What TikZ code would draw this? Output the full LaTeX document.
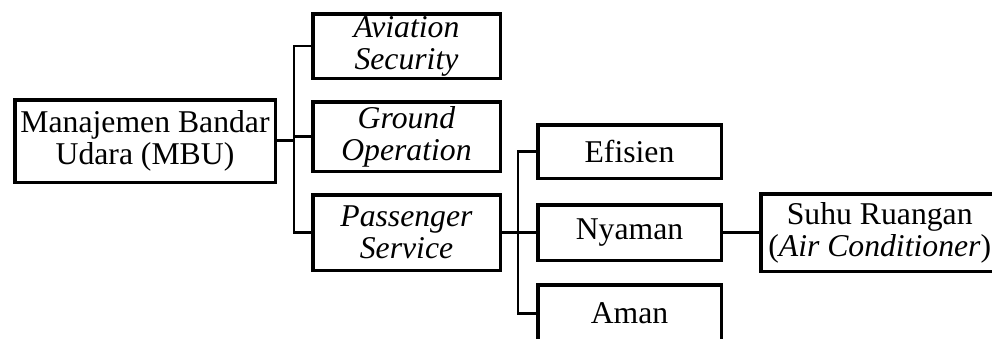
\documentclass[tikz,border=0pt]{standalone}
\usepackage{fontspec}
\setmainfont{Liberation Serif}
\begin{document}
\begin{tikzpicture}[x=1pt,y=-1pt,
  box/.style={draw=black, line width=3.5pt, rectangle, inner sep=0pt, outer sep=0pt,
    align=center, font=\fontsize{31.7}{32}\selectfont},
  tree/.style={draw=black, line width=2.2pt, line join=miter},
  trunk/.style={draw=black, line width=3pt}]
\useasboundingbox (0,0) rectangle (992,338);
\node[box, minimum width=260.5pt, minimum height=82.5pt] (mbu) at (145,141) {Manajemen Bandar\\Udara (MBU)};
\node[box, minimum width=187.5pt, minimum height=64.5pt] (avi) at (406.5,46) {\textit{Aviation}\\\textit{Security}};
\node[box, minimum width=187.5pt, minimum height=69.5pt] (gro) at (406.5,136.5) {\textit{Ground}\\\textit{Operation}};
\node[box, minimum width=187.5pt, minimum height=75.5pt] (pas) at (406.5,232.5) {\textit{Passenger}\\\textit{Service}};
\node[box, minimum width=183.5pt, minimum height=53.5pt] (efi) at (629.5,151.5) {Efisien};
\node[box, minimum width=183.5pt, minimum height=55.5pt] (nya) at (629.5,232.5) {Nyaman};
\node[box, minimum width=183.5pt, minimum height=57pt] (ama) at (629.5,313.5) {Aman};
\node[box, minimum width=238pt, minimum height=77.5pt] (suhu) at (879.75,232.5) {Suhu Ruangan\\(\textit{Air Conditioner})};
\coordinate (j1) at (294,140);
\coordinate (j2) at (518,232.5);
\draw[trunk] (mbu.east |- j1) -- (j1);
\draw[tree] (avi.west) -| (j1 |- pas.west) -- (pas.west);
\draw[tree] (j1 |- gro.west) -- (gro.west);
\draw[tree] (pas.east) -- (j2);
\draw[tree] (efi.west) -| (j2 |- ama.west) -- (ama.west);
\draw[tree] (j2) -- (nya.west);
\draw[tree] (nya.east) -- (suhu.west);
\end{tikzpicture}
\end{document}
